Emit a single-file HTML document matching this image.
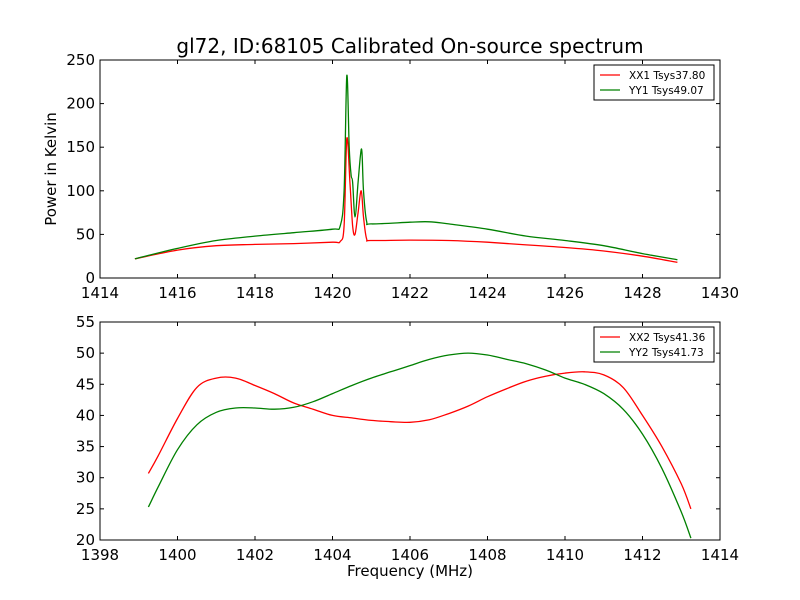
<!DOCTYPE html>
<html><head><meta charset="utf-8"><style>
body{margin:0;background:#fff;}
svg{display:block;font-family:"DejaVu Sans","Liberation Sans",sans-serif;}
</style></head><body>
<svg id="chart" width="800" height="600" xmlns="http://www.w3.org/2000/svg">
<rect width="800" height="600" fill="#fff"/>
<text x="410" y="53" font-size="20" text-anchor="middle">gl72, ID:68105 Calibrated On-source spectrum</text>
<text x="410" y="576" font-size="15" text-anchor="middle">Frequency (MHz)</text>
<text transform="translate(56,169) rotate(-90)" font-size="15" text-anchor="middle">Power in Kelvin</text>
<g id="top"></g><g id="bot"></g>
</svg>
<script>
const xx1F=[1414.9,1416,1417,1418,1419,1420,1420.2,1420.3,1420.37,1420.45,1420.52,1420.58,1420.66,1420.74,1420.8,1420.88,1421,1422,1423,1424,1425,1426,1427,1428,1428.9];
const xx1V=[22,32,37,38.5,39.5,41,42,60,160,110,60,50,75,100,70,45,43,43.5,43,41,38,35,31,25,18];
const yy1F=[1414.9,1416,1417,1418,1419,1420,1420.2,1420.3,1420.37,1420.43,1420.48,1420.52,1420.58,1420.66,1420.72,1420.76,1420.8,1420.88,1421,1422,1422.5,1423,1424,1425,1426,1427,1428,1428.9];
const yy1V=[22,34,43,48,52,56,60,100,232,150,118,110,70,110,140,145,100,65,62,64,64.5,62,56,48,43,37,28,21];
const xx2F=[1399.25,1399.5,1400,1400.5,1401,1401.5,1402,1402.5,1403,1403.5,1404,1404.5,1405,1405.5,1406,1406.5,1407,1407.5,1408,1408.5,1409,1409.5,1410,1410.5,1411,1411.5,1412,1412.5,1413,1413.25];
const xx2V=[30.7,33.5,39.5,44.5,46,46,44.8,43.5,42,41,40,39.6,39.2,39,38.9,39.3,40.3,41.5,43,44.3,45.5,46.3,46.8,47,46.5,44.5,40,35,29,25];
const yy2F=xx2F;
const yy2V=[25.3,28.5,34.5,38.5,40.5,41.2,41.2,41,41.3,42.2,43.5,44.8,46,47,48,49,49.7,50,49.7,49,48.3,47.3,46,45,43.5,41,37,31.5,24.5,20.3];
const topXTicks=[1414,1416,1418,1420,1422,1424,1426,1428,1430];
const topYTicks=[0,50,100,150,200,250];
const botXTicks=[1398,1400,1402,1404,1406,1408,1410,1412,1414];
const botYTicks=[20,25,30,35,40,45,50,55];
const NS="http://www.w3.org/2000/svg";
function mk(p,t,a){const e=document.createElementNS(NS,t);for(const k in a)e.setAttribute(k,a[k]);p.appendChild(e);return e;}
function smooth(pts){
  let d='M'+pts[0][0].toFixed(1)+','+pts[0][1].toFixed(1);
  for(let i=0;i<pts.length-1;i++){
    const p0=pts[Math.max(0,i-1)],p1=pts[i],p2=pts[i+1],p3=pts[Math.min(pts.length-1,i+2)];
    const c1=[p1[0]+(p2[0]-p0[0])/6,p1[1]+(p2[1]-p0[1])/6];
    const c2=[p2[0]-(p3[0]-p1[0])/6,p2[1]-(p3[1]-p1[1])/6];
    d+='C'+c1.map(v=>v.toFixed(1)).join(',')+' '+c2.map(v=>v.toFixed(1)).join(',')+' '+p2.map(v=>v.toFixed(1)).join(',');
  }
  return d;
}
function panel(g,name,x0,x1,y0,y1,xt,yt,series,legend,ly){
  const L=100,R=720,T=ly-5,B=ly+213;
  const sx=v=>L+(v-x0)/(x1-x0)*(R-L), sy=v=>B-(v-y0)/(y1-y0)*(B-T);
  series.forEach(s=>{
    const pl=mk(g,'path',{d:smooth(s.f.map((f,i)=>[sx(f),sy(s.v[i])])),fill:'none',stroke:s.c,'stroke-width':1.3});
    
    
  });
  const fr=mk(g,'rect',{x:L,y:T,width:R-L,height:B-T,fill:'none',stroke:'#000'});
  
  
  xt.forEach(v=>{const x=sx(v);mk(g,'line',{x1:x,x2:x,y1:B,y2:B-4,stroke:'#000'});mk(g,'line',{x1:x,x2:x,y1:T,y2:T+4,stroke:'#000'});
    const t=mk(g,'text',{x:x,y:B+20,'font-size':15,'text-anchor':'middle'});t.textContent=v;
    
    });
  yt.forEach(v=>{const y=sy(v);mk(g,'line',{x1:L,x2:L+4,y1:y,y2:y,stroke:'#000'});mk(g,'line',{x1:R,x2:R-4,y1:y,y2:y,stroke:'#000'});
    const t=mk(g,'text',{x:L-5,y:y+5,'font-size':15,'text-anchor':'end'});t.textContent=v;
    
    });
  const lg=mk(g,'g',{});
  
  
  mk(lg,'rect',{x:594,y:ly,width:120,height:35,fill:'#fff',stroke:'#000'});
  legend.forEach((e,i)=>{const y=ly+10+i*15;mk(lg,'line',{x1:600,x2:620,y1:y,y2:y,stroke:e.c,'stroke-width':1.2});
    const t=mk(lg,'text',{x:629,y:y+4,'font-size':10.5});t.textContent=e.t;
    
    });
}
panel(document.getElementById('top'),'top',1414,1430,0,250,topXTicks,topYTicks,
 [{f:xx1F,v:xx1V,c:'#ff0000',n:'xx1'},{f:yy1F,v:yy1V,c:'#008000',n:'yy1'}],
 [{t:'XX1 Tsys37.80',c:'#ff0000'},{t:'YY1 Tsys49.07',c:'#008000'}],65);
panel(document.getElementById('bot'),'bottom',1398,1414,20,55,botXTicks,botYTicks,
 [{f:xx2F,v:xx2V,c:'#ff0000',n:'xx2'},{f:yy2F,v:yy2V,c:'#008000',n:'yy2'}],
 [{t:'XX2 Tsys41.36',c:'#ff0000'},{t:'YY2 Tsys41.73',c:'#008000'}],327);
</script>
</body></html>
